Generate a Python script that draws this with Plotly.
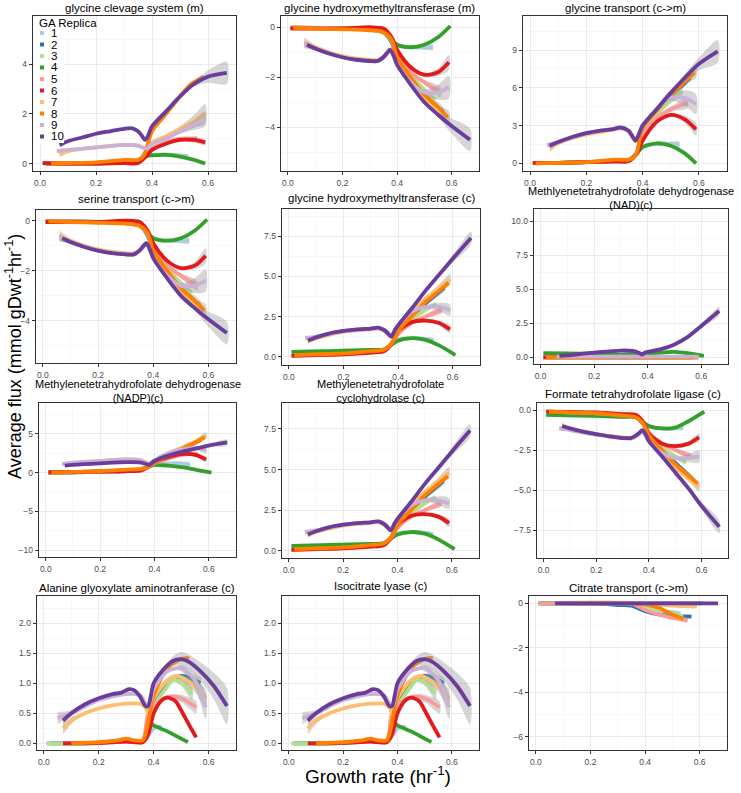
import plotly.graph_objects as go

# ---------------- series / colours ----------------
SERIES = ["1", "2", "3", "4", "5", "6", "7", "8", "9", "10"]
COLORS = ["#A6CEE3", "#1F78B4", "#B2DF8A", "#33A02C", "#FB9A99",
          "#E31A1C", "#FDBF6F", "#FF7F00", "#CAB2D6", "#6A3D9A"]

TITLES = [
    "glycine clevage system (m)",
    "glycine hydroxymethyltransferase (m)",
    "glycine transport (c->m)",
    "serine transport (c->m)",
    "glycine hydroxymethyltransferase (c)",
    "Methlyenetetrahydrofolate dehydrogenase<br>(NAD)(c)",
    "Methylenetetrahydrofolate dehydrogenase<br>(NADP)(c)",
    "Methylenetetrahydrofolate<br>cyclohydrolase (c)",
    "Formate tetrahydrofolate ligase (c)",
    "Alanine glyoxylate aminotranferase (c)",
    "Isocitrate lyase (c)",
    "Citrate transport (c->m)",
]

X_TICKS = [0.0, 0.2, 0.4, 0.6]

# each entry: series -> (growth rate, average flux, ribbon half-width)
glycine_cleavage = {
    "1": ([0.01, 0.1, 0.2, 0.3, 0.35, 0.38, 0.4, 0.45, 0.5, 0.53],
          [0.02, 0.0, 0.0, 0.05, 0.05, 0.3, 0.35, 0.37, 0.33, 0.3], None),
    "2": ([0.02, 0.1, 0.2, 0.3, 0.35, 0.38, 0.4, 0.45, 0.5, 0.57],
          [0.0, 0.0, 0.02, 0.1, 0.1, 0.5, 0.8, 1.05, 1.3, 1.65], None),
    "3": ([0.01, 0.1, 0.2, 0.3, 0.35, 0.38, 0.4, 0.45, 0.5, 0.54],
          [0.02, 0.0, 0.02, 0.08, 0.08, 0.5, 0.75, 1.05, 1.3, 1.5], None),
    "4": ([0.01, 0.1, 0.2, 0.3, 0.35, 0.38, 0.4, 0.45, 0.5, 0.55, 0.59],
          [0.02, 0.0, 0.0, 0.03, 0.03, 0.3, 0.33, 0.35, 0.28, 0.15, 0.0], None),
    "5": ([0.01, 0.1, 0.2, 0.3, 0.35, 0.38, 0.4, 0.45, 0.5, 0.55, 0.56],
          [0.02, 0.0, 0.0, 0.05, 0.05, 0.4, 0.6, 0.85, 1.0, 1.0, 1.0],
          [0, 0, 0, 0, 0, 0, 0, 0, 0.05, 0.1, 0.12]),
    "6": ([0.01, 0.1, 0.2, 0.3, 0.35, 0.38, 0.4, 0.45, 0.5, 0.55, 0.59],
          [0.02, 0.0, 0.0, 0.02, 0.02, 0.3, 0.55, 0.8, 0.95, 0.95, 0.85],
          [0, 0, 0, 0, 0, 0, 0, 0, 0.05, 0.1, 0.12]),
    "7": ([0.07, 0.1, 0.2, 0.3, 0.35, 0.38, 0.4, 0.45, 0.5, 0.55, 0.59],
          [0.35, 0.5, 0.65, 0.75, 0.72, 0.6, 0.85, 1.1, 1.4, 1.7, 2.0],
          [0.1, 0.05, 0, 0, 0, 0, 0, 0, 0.1, 0.25, 0.4]),
    "8": ([0.04, 0.1, 0.2, 0.3, 0.35, 0.37, 0.38, 0.4, 0.45, 0.5, 0.54, 0.585],
          [0.0, 0.02, 0.05, 0.15, 0.15, 0.3, 0.6, 1.3, 2.0, 2.7, 3.2, 3.5], None),
    "9": ([0.06, 0.1, 0.2, 0.3, 0.35, 0.38, 0.4, 0.45, 0.5, 0.55, 0.59],
          [0.5, 0.55, 0.65, 0.75, 0.72, 0.6, 0.8, 1.0, 1.3, 1.55, 1.8],
          [0.08, 0.05, 0, 0, 0, 0, 0, 0, 0.08, 0.2, 0.3]),
    "10": ([0.07, 0.1, 0.15, 0.2, 0.25, 0.3, 0.33, 0.35, 0.365, 0.375, 0.385, 0.4, 0.45, 0.5, 0.55, 0.6, 0.667],
           [0.75, 0.9, 1.05, 1.2, 1.3, 1.4, 1.42, 1.3, 1.1, 0.95, 1.1, 1.5, 2.1, 2.7, 3.2, 3.5, 3.65],
           [0.08, 0.05, 0, 0, 0, 0, 0, 0, 0, 0, 0, 0, 0, 0.05, 0.1, 0.25, 0.45]),
}

ghmt_m = {
    "1": ([0.01, 0.1, 0.2, 0.3, 0.35, 0.38, 0.4, 0.45, 0.5, 0.53],
          [-0.02, -0.03, -0.05, -0.05, -0.1, -0.5, -0.7, -0.8, -0.8, -0.8],
          [0, 0, 0, 0, 0, 0, 0, 0.05, 0.1, 0.12]),
    "2": ([0.02, 0.1, 0.2, 0.3, 0.35, 0.38, 0.4, 0.45, 0.5, 0.57],
          [-0.02, -0.03, -0.05, -0.1, -0.2, -0.6, -1.2, -2.0, -2.7, -3.4],
          [0, 0, 0, 0, 0, 0, 0, 0, 0.1, 0.2]),
    "3": ([0.01, 0.1, 0.2, 0.3, 0.35, 0.38, 0.4, 0.45, 0.5, 0.54],
          [-0.02, -0.03, -0.05, -0.1, -0.2, -0.55, -1.1, -1.9, -2.5, -2.9], None),
    "4": ([0.01, 0.1, 0.2, 0.3, 0.35, 0.38, 0.4, 0.45, 0.5, 0.55, 0.595],
          [-0.02, -0.03, -0.05, -0.05, -0.1, -0.5, -0.7, -0.8, -0.7, -0.4, 0.05], None),
    "5": ([0.01, 0.1, 0.2, 0.3, 0.35, 0.38, 0.4, 0.45, 0.5, 0.56],
          [-0.02, -0.03, -0.05, -0.05, -0.1, -0.5, -1.0, -1.8, -2.2, -2.6],
          [0, 0, 0, 0, 0, 0, 0, 0, 0.1, 0.2]),
    "6": ([0.01, 0.1, 0.2, 0.3, 0.35, 0.38, 0.4, 0.45, 0.5, 0.55, 0.59],
          [-0.05, -0.05, -0.05, 0.0, -0.05, -0.4, -0.9, -1.6, -1.9, -1.8, -1.4],
          [0, 0, 0, 0, 0, 0, 0, 0, 0.05, 0.15, 0.3]),
    "7": ([0.06, 0.1, 0.2, 0.3, 0.33, 0.36, 0.375, 0.4, 0.45, 0.5, 0.55, 0.59],
          [-0.6, -0.8, -1.15, -1.3, -1.3, -1.1, -0.9, -1.4, -2.1, -2.8, -3.3, -3.6],
          [0.2, 0.1, 0, 0, 0, 0, 0, 0, 0, 0.05, 0.15, 0.25]),
    "8": ([0.02, 0.1, 0.2, 0.3, 0.35, 0.38, 0.4, 0.45, 0.5, 0.55, 0.585],
          [-0.02, -0.05, -0.08, -0.12, -0.2, -0.5, -1.2, -2.0, -2.7, -3.2, -3.6], None),
    "9": ([0.06, 0.1, 0.2, 0.3, 0.33, 0.36, 0.375, 0.4, 0.45, 0.5, 0.55, 0.59],
          [-0.7, -0.85, -1.2, -1.35, -1.35, -1.1, -0.95, -1.5, -2.2, -2.6, -2.6, -2.4],
          [0.15, 0.08, 0, 0, 0, 0, 0, 0, 0, 0.1, 0.3, 0.45]),
    "10": ([0.07, 0.1, 0.15, 0.2, 0.25, 0.3, 0.33, 0.35, 0.365, 0.375, 0.39, 0.4, 0.45, 0.5, 0.55, 0.6, 0.667],
           [-0.7, -0.85, -1.05, -1.2, -1.3, -1.35, -1.35, -1.2, -1.0, -0.9, -1.2, -1.5, -2.3, -3.0, -3.5, -3.95, -4.5],
           [0.05, 0.03, 0, 0, 0, 0, 0, 0, 0, 0, 0, 0, 0, 0.05, 0.1, 0.3, 0.45]),
}

glycine_transport = {
    "1": ([0.01, 0.1, 0.2, 0.3, 0.35, 0.38, 0.4, 0.45, 0.5, 0.53],
          [0.02, 0.05, 0.1, 0.2, 0.2, 0.8, 1.3, 1.55, 1.55, 1.5],
          [0, 0, 0, 0, 0, 0, 0, 0.1, 0.2, 0.25]),
    "2": ([0.02, 0.1, 0.2, 0.3, 0.35, 0.38, 0.4, 0.45, 0.5, 0.57],
          [0.0, 0.05, 0.1, 0.25, 0.3, 0.9, 2.8, 4.1, 5.3, 6.8], None),
    "3": ([0.01, 0.1, 0.2, 0.3, 0.35, 0.38, 0.4, 0.45, 0.5, 0.54],
          [0.0, 0.05, 0.1, 0.25, 0.3, 0.9, 2.5, 3.9, 5.0, 5.8],
          [0, 0, 0, 0, 0, 0, 0, 0, 0.2, 0.4]),
    "4": ([0.01, 0.1, 0.2, 0.3, 0.35, 0.38, 0.4, 0.45, 0.5, 0.55, 0.59],
          [0.02, 0.05, 0.1, 0.2, 0.2, 0.8, 1.3, 1.6, 1.4, 0.8, 0.0], None),
    "5": ([0.01, 0.1, 0.2, 0.3, 0.35, 0.38, 0.4, 0.45, 0.5, 0.56],
          [0.02, 0.05, 0.1, 0.2, 0.2, 0.8, 2.2, 3.6, 4.3, 4.8],
          [0, 0, 0, 0, 0, 0, 0, 0, 0.2, 0.4]),
    "6": ([0.01, 0.1, 0.2, 0.3, 0.35, 0.38, 0.4, 0.45, 0.5, 0.55, 0.59],
          [0.05, 0.05, 0.1, 0.15, 0.2, 0.8, 1.8, 3.3, 3.85, 3.5, 2.7],
          [0, 0, 0, 0, 0, 0, 0, 0, 0.1, 0.3, 0.5]),
    "7": ([0.07, 0.1, 0.2, 0.3, 0.32, 0.35, 0.375, 0.39, 0.4, 0.45, 0.5, 0.55, 0.59],
          [1.2, 1.6, 2.3, 2.7, 2.8, 2.55, 1.8, 2.4, 2.9, 4.3, 5.6, 6.6, 7.3],
          [0.3, 0.15, 0, 0, 0, 0, 0, 0, 0, 0, 0.1, 0.3, 0.5]),
    "8": ([0.02, 0.1, 0.2, 0.3, 0.35, 0.37, 0.38, 0.4, 0.45, 0.5, 0.55, 0.585],
          [0.0, 0.05, 0.1, 0.3, 0.3, 0.5, 0.9, 2.8, 4.2, 5.4, 6.5, 7.2], None),
    "9": ([0.06, 0.1, 0.2, 0.3, 0.32, 0.35, 0.375, 0.39, 0.4, 0.45, 0.5, 0.55, 0.59],
          [1.45, 1.7, 2.4, 2.75, 2.8, 2.6, 1.9, 2.5, 3.0, 4.3, 5.2, 5.2, 4.7],
          [0.2, 0.1, 0, 0, 0, 0, 0, 0, 0, 0, 0.2, 0.6, 0.8]),
    "10": ([0.07, 0.1, 0.15, 0.2, 0.25, 0.3, 0.32, 0.35, 0.365, 0.375, 0.39, 0.4, 0.45, 0.5, 0.55, 0.6, 0.667],
           [1.4, 1.7, 2.1, 2.4, 2.6, 2.75, 2.85, 2.6, 2.1, 1.8, 2.5, 3.0, 4.3, 5.6, 6.8, 7.9, 8.9],
           [0.2, 0.1, 0, 0, 0, 0, 0, 0, 0, 0, 0, 0, 0, 0.1, 0.3, 0.5, 0.9]),
}

ghmt_c = {
    "1": ([0.01, 0.1, 0.2, 0.3, 0.35, 0.38, 0.4, 0.45, 0.5, 0.53],
          [0.3, 0.33, 0.37, 0.42, 0.45, 0.8, 1.05, 1.15, 1.1, 1.0],
          [0, 0, 0, 0, 0, 0, 0, 0.05, 0.1, 0.15]),
    "2": ([0.02, 0.1, 0.2, 0.3, 0.35, 0.38, 0.4, 0.45, 0.5, 0.57],
          [0.1, 0.15, 0.2, 0.35, 0.45, 0.9, 1.6, 2.5, 3.3, 4.3],
          [0, 0, 0, 0, 0, 0, 0, 0, 0.1, 0.2]),
    "3": ([0.01, 0.1, 0.2, 0.3, 0.35, 0.38, 0.4, 0.45, 0.5, 0.54],
          [0.1, 0.15, 0.2, 0.35, 0.45, 0.9, 1.5, 2.3, 2.9, 3.3], None),
    "4": ([0.01, 0.1, 0.2, 0.3, 0.35, 0.38, 0.4, 0.45, 0.5, 0.55, 0.61],
          [0.3, 0.33, 0.37, 0.42, 0.45, 0.8, 1.0, 1.15, 1.05, 0.7, 0.1], None),
    "5": ([0.01, 0.1, 0.2, 0.3, 0.35, 0.38, 0.4, 0.45, 0.5, 0.56],
          [0.05, 0.1, 0.15, 0.25, 0.35, 0.9, 1.4, 2.1, 2.5, 2.9],
          [0, 0, 0, 0, 0, 0, 0, 0, 0.1, 0.2]),
    "6": ([0.01, 0.1, 0.2, 0.3, 0.35, 0.38, 0.4, 0.45, 0.5, 0.55, 0.59],
          [0.05, 0.1, 0.15, 0.25, 0.35, 0.9, 1.6, 2.15, 2.25, 2.1, 1.7],
          [0, 0, 0, 0, 0, 0, 0, 0, 0.05, 0.15, 0.25]),
    "7": ([0.07, 0.1, 0.2, 0.3, 0.33, 0.36, 0.375, 0.39, 0.4, 0.45, 0.5, 0.55, 0.59],
          [0.95, 1.15, 1.55, 1.7, 1.75, 1.5, 1.25, 1.65, 1.9, 2.8, 3.6, 4.3, 4.8],
          [0.15, 0.08, 0, 0, 0, 0, 0, 0, 0, 0, 0.05, 0.2, 0.35]),
    "8": ([0.02, 0.1, 0.2, 0.3, 0.35, 0.38, 0.4, 0.45, 0.5, 0.55, 0.585],
          [0.1, 0.15, 0.2, 0.35, 0.45, 0.9, 1.6, 2.5, 3.4, 4.1, 4.6], None),
    "9": ([0.06, 0.1, 0.2, 0.3, 0.33, 0.36, 0.375, 0.39, 0.4, 0.45, 0.5, 0.55, 0.59],
          [1.15, 1.25, 1.6, 1.75, 1.8, 1.55, 1.3, 1.7, 1.95, 2.8, 3.1, 3.1, 2.9],
          [0.15, 0.08, 0, 0, 0, 0, 0, 0, 0, 0, 0.1, 0.25, 0.35]),
    "10": ([0.07, 0.1, 0.15, 0.2, 0.25, 0.3, 0.33, 0.35, 0.365, 0.375, 0.39, 0.4, 0.45, 0.5, 0.55, 0.6, 0.667],
           [1.0, 1.2, 1.45, 1.6, 1.7, 1.75, 1.8, 1.65, 1.4, 1.25, 1.7, 1.95, 3.0, 4.1, 5.1, 6.1, 7.4],
           [0.1, 0.05, 0, 0, 0, 0, 0, 0, 0, 0, 0, 0, 0, 0.05, 0.1, 0.25, 0.4]),
}

mthfd_nad = {
    "1": ([0.01, 0.3, 0.53], [0.0, 0.0, 0.0], None),
    "2": ([0.02, 0.3, 0.57], [0.0, 0.0, 0.0], None),
    "3": ([0.01, 0.3, 0.54], [0.0, 0.0, 0.0], None),
    "4": ([0.01, 0.1, 0.2, 0.3, 0.38, 0.45, 0.5, 0.55, 0.61],
          [0.3, 0.28, 0.25, 0.2, 0.25, 0.35, 0.4, 0.3, 0.1], None),
    "5": ([0.01, 0.3, 0.56], [0.0, 0.0, 0.0], None),
    "6": ([0.01, 0.3, 0.59], [0.0, 0.0, 0.0], None),
    "7": ([0.07, 0.3, 0.59], [0.0, 0.0, 0.0], None),
    "8": ([0.02, 0.3, 0.585], [0.0, 0.0, 0.0], None),
    "9": ([0.06, 0.15, 0.25, 0.32, 0.37, 0.4, 0.5, 0.59],
          [0.05, 0.05, 0.05, 0.05, 0.05, 0.05, 0.05, 0.05],
          [0, 0.05, 0.15, 0.2, 0.1, 0, 0, 0]),
    "10": ([0.07, 0.1, 0.2, 0.3, 0.35, 0.37, 0.38, 0.39, 0.4, 0.45, 0.5, 0.55, 0.6, 0.667],
           [0.1, 0.15, 0.35, 0.5, 0.45, 0.3, 0.2, 0.35, 0.4, 0.6, 0.95, 1.5, 2.3, 3.4],
           [0, 0, 0, 0, 0, 0, 0, 0, 0, 0, 0, 0.05, 0.15, 0.3]),
}

mthfd_nadp = {
    "1": ([0.01, 0.1, 0.2, 0.3, 0.35, 0.38, 0.4, 0.45, 0.5, 0.53],
          [0.0, 0.05, 0.1, 0.2, 0.3, 0.8, 1.1, 1.2, 1.2, 1.0],
          [0, 0, 0, 0, 0, 0, 0, 0.1, 0.2, 0.3]),
    "2": ([0.02, 0.1, 0.2, 0.3, 0.35, 0.38, 0.4, 0.45, 0.5, 0.57],
          [0.0, 0.05, 0.15, 0.3, 0.45, 0.8, 1.4, 2.2, 3.0, 4.2], None),
    "3": ([0.01, 0.1, 0.2, 0.3, 0.35, 0.38, 0.4, 0.45, 0.5, 0.54],
          [0.0, 0.05, 0.15, 0.3, 0.45, 0.8, 1.3, 2.0, 2.6, 3.0], None),
    "4": ([0.01, 0.1, 0.2, 0.3, 0.35, 0.38, 0.4, 0.45, 0.5, 0.55, 0.61],
          [0.0, 0.05, 0.1, 0.2, 0.3, 0.8, 1.0, 0.9, 0.7, 0.4, 0.0], None),
    "5": ([0.01, 0.1, 0.2, 0.3, 0.35, 0.38, 0.4, 0.45, 0.5, 0.56],
          [0.0, 0.05, 0.1, 0.2, 0.3, 0.8, 1.2, 1.8, 2.3, 2.5], None),
    "6": ([0.01, 0.1, 0.2, 0.3, 0.35, 0.38, 0.4, 0.45, 0.5, 0.55, 0.59],
          [0.05, 0.08, 0.15, 0.2, 0.3, 0.8, 1.3, 2.0, 2.4, 2.3, 1.7],
          [0, 0, 0, 0, 0, 0, 0, 0, 0.1, 0.2, 0.3]),
    "7": ([0.07, 0.1, 0.2, 0.3, 0.35, 0.38, 0.4, 0.45, 0.5, 0.55, 0.59],
          [1.0, 1.2, 1.5, 1.7, 1.6, 1.2, 1.5, 2.5, 3.2, 4.0, 4.8],
          [0.3, 0.15, 0, 0, 0, 0, 0, 0, 0.1, 0.25, 0.4]),
    "8": ([0.02, 0.1, 0.2, 0.3, 0.35, 0.38, 0.4, 0.45, 0.5, 0.55, 0.585],
          [0.0, 0.1, 0.2, 0.4, 0.5, 0.8, 1.3, 2.2, 3.1, 3.9, 4.6], None),
    "9": ([0.06, 0.1, 0.2, 0.3, 0.35, 0.38, 0.4, 0.45, 0.5, 0.55, 0.59],
          [1.1, 1.3, 1.5, 1.7, 1.6, 1.1, 1.6, 2.5, 3.0, 3.2, 2.9],
          [0.3, 0.15, 0, 0, 0, 0, 0, 0, 0.1, 0.25, 0.4]),
    "10": ([0.07, 0.1, 0.2, 0.3, 0.35, 0.37, 0.38, 0.4, 0.45, 0.5, 0.55, 0.6, 0.667],
           [0.9, 1.0, 1.2, 1.35, 1.3, 1.1, 1.0, 1.5, 2.2, 2.7, 3.1, 3.5, 3.9],
           [0.2, 0.1, 0, 0, 0, 0, 0, 0, 0, 0, 0.1, 0.2, 0.4]),
}

formate_ligase = {
    "1": ([0.01, 0.1, 0.2, 0.3, 0.35, 0.38, 0.4, 0.45, 0.5, 0.53],
          [-0.3, -0.33, -0.37, -0.42, -0.45, -0.8, -1.05, -1.15, -1.15, -1.1],
          [0, 0, 0, 0, 0, 0, 0, 0.05, 0.1, 0.15]),
    "2": ([0.02, 0.1, 0.2, 0.3, 0.35, 0.38, 0.4, 0.45, 0.5, 0.57],
          [-0.1, -0.15, -0.2, -0.35, -0.45, -0.9, -1.7, -2.6, -3.3, -4.4],
          [0, 0, 0, 0, 0, 0, 0, 0, 0.1, 0.2]),
    "3": ([0.01, 0.1, 0.2, 0.3, 0.35, 0.38, 0.4, 0.45, 0.5, 0.54],
          [-0.1, -0.15, -0.2, -0.35, -0.45, -0.9, -1.5, -2.3, -2.9, -3.3], None),
    "4": ([0.01, 0.1, 0.2, 0.3, 0.35, 0.38, 0.4, 0.45, 0.5, 0.55, 0.61],
          [-0.3, -0.33, -0.37, -0.42, -0.45, -0.8, -1.0, -1.15, -1.1, -0.7, -0.1], None),
    "5": ([0.01, 0.1, 0.2, 0.3, 0.35, 0.38, 0.4, 0.45, 0.5, 0.56],
          [-0.1, -0.15, -0.2, -0.3, -0.4, -0.9, -1.4, -2.1, -2.5, -2.9],
          [0, 0, 0, 0, 0, 0, 0, 0, 0.1, 0.2]),
    "6": ([0.01, 0.1, 0.2, 0.3, 0.35, 0.38, 0.4, 0.45, 0.5, 0.55, 0.59],
          [-0.1, -0.12, -0.15, -0.25, -0.3, -0.8, -1.5, -2.1, -2.25, -2.1, -1.7],
          [0, 0, 0, 0, 0, 0, 0, 0, 0.05, 0.15, 0.25]),
    "7": ([0.07, 0.1, 0.2, 0.3, 0.33, 0.36, 0.375, 0.39, 0.4, 0.45, 0.5, 0.55, 0.59],
          [-0.95, -1.15, -1.5, -1.7, -1.75, -1.5, -1.25, -1.6, -1.9, -2.8, -3.6, -4.3, -4.8],
          [0.15, 0.08, 0, 0, 0, 0, 0, 0, 0, 0, 0.05, 0.15, 0.3]),
    "8": ([0.02, 0.1, 0.2, 0.3, 0.35, 0.38, 0.4, 0.45, 0.5, 0.55, 0.585],
          [-0.1, -0.15, -0.2, -0.35, -0.45, -0.9, -1.6, -2.5, -3.4, -4.1, -4.6], None),
    "9": ([0.06, 0.1, 0.2, 0.3, 0.33, 0.36, 0.375, 0.39, 0.4, 0.45, 0.5, 0.55, 0.59],
          [-1.15, -1.25, -1.55, -1.75, -1.8, -1.55, -1.3, -1.7, -1.95, -2.7, -3.0, -3.0, -2.9],
          [0.15, 0.08, 0, 0, 0, 0, 0, 0, 0, 0, 0.1, 0.25, 0.4]),
    "10": ([0.07, 0.1, 0.15, 0.2, 0.25, 0.3, 0.33, 0.35, 0.365, 0.375, 0.39, 0.4, 0.45, 0.5, 0.55, 0.6, 0.667],
           [-1.0, -1.15, -1.35, -1.5, -1.65, -1.75, -1.75, -1.6, -1.4, -1.25, -1.6, -1.95, -2.9, -3.9, -4.9, -6.0, -7.3],
           [0.1, 0.05, 0, 0, 0, 0, 0, 0, 0, 0, 0, 0, 0, 0.05, 0.1, 0.25, 0.4]),
}

alanine_glyoxylate = {
    "1": ([0.01, 0.1, 0.2, 0.3, 0.36, 0.38, 0.4, 0.43],
          [0.0, 0.0, 0.0, 0.03, 0.02, 0.12, 0.25, 0.28], None),
    "2": ([0.02, 0.1, 0.2, 0.3, 0.36, 0.38, 0.4, 0.45, 0.5, 0.55, 0.57],
          [0.0, 0.0, 0.01, 0.05, 0.03, 0.3, 0.7, 1.0, 1.12, 1.05, 1.0],
          [0, 0, 0, 0, 0, 0, 0, 0, 0.04, 0.08, 0.1]),
    "3": ([0.01, 0.07, 0.1, 0.2, 0.3, 0.36, 0.38, 0.4, 0.45, 0.47, 0.5, 0.54],
          [0.0, 0.0, 0.0, 0.01, 0.04, 0.03, 0.3, 0.6, 0.95, 1.05, 1.02, 0.82],
          [0, 0, 0, 0, 0, 0, 0, 0, 0, 0.03, 0.06, 0.1]),
    "4": ([0.1, 0.2, 0.3, 0.36, 0.375, 0.385, 0.4, 0.45, 0.5, 0.525],
          [0.0, 0.01, 0.05, 0.03, 0.2, 0.35, 0.3, 0.2, 0.08, 0.02], None),
    "5": ([0.1, 0.2, 0.3, 0.36, 0.38, 0.42, 0.46, 0.5, 0.555],
          [0.0, 0.01, 0.05, 0.05, 0.5, 0.7, 0.78, 0.75, 0.6],
          [0, 0, 0, 0, 0, 0, 0.03, 0.06, 0.1]),
    "6": ([0.07, 0.1, 0.2, 0.3, 0.36, 0.38, 0.4, 0.43, 0.45, 0.48, 0.5, 0.53, 0.555],
          [0.0, 0.0, 0.01, 0.03, 0.02, 0.15, 0.5, 0.72, 0.76, 0.7, 0.55, 0.3, 0.1], None),
    "7": ([0.07, 0.1, 0.15, 0.2, 0.25, 0.3, 0.35, 0.37, 0.38, 0.4, 0.45, 0.48, 0.5, 0.55, 0.59],
          [0.25, 0.38, 0.5, 0.58, 0.63, 0.66, 0.66, 0.6, 0.5, 0.75, 1.05, 1.12, 1.1, 0.95, 0.75],
          [0.1, 0.06, 0, 0, 0, 0, 0, 0, 0, 0, 0, 0.03, 0.05, 0.1, 0.15]),
    "8": ([0.1, 0.2, 0.28, 0.3, 0.33, 0.36, 0.37, 0.38, 0.4, 0.45, 0.5, 0.53],
          [0.0, 0.02, 0.06, 0.08, 0.05, 0.05, 0.15, 0.35, 0.8, 1.25, 1.4, 1.42], None),
    "9": ([0.05, 0.1, 0.2, 0.3, 0.35, 0.38, 0.4, 0.45, 0.5, 0.55, 0.59],
          [0.42, 0.5, 0.72, 0.82, 0.8, 0.6, 0.9, 1.2, 1.25, 1.05, 0.6],
          [0.1, 0.05, 0, 0, 0, 0, 0, 0, 0.05, 0.12, 0.2]),
    "10": ([0.07, 0.1, 0.15, 0.2, 0.25, 0.28, 0.31, 0.33, 0.35, 0.37, 0.38, 0.39, 0.4, 0.43, 0.47, 0.5, 0.53, 0.57, 0.62, 0.667],
           [0.38, 0.5, 0.65, 0.75, 0.82, 0.84, 0.9, 0.88, 0.78, 0.62, 0.62, 0.8, 1.0, 1.2, 1.37, 1.4, 1.35, 1.2, 0.95, 0.62],
           [0.06, 0.04, 0, 0, 0, 0, 0, 0, 0, 0, 0, 0, 0, 0, 0.08, 0.12, 0.12, 0.15, 0.22, 0.3]),
}

citrate_transport = {
    "1": ([0.01, 0.3, 0.35, 0.4, 0.45, 0.5, 0.53], [0.0, 0.0, 0.0, -0.15, -0.3, -0.4, -0.45], None),
    "2": ([0.02, 0.25, 0.3, 0.35, 0.4, 0.45, 0.5, 0.57], [0.0, -0.02, -0.08, -0.1, -0.35, -0.5, -0.55, -0.6], None),
    "3": ([0.01, 0.35, 0.4, 0.45, 0.5, 0.54], [0.0, 0.0, -0.15, -0.3, -0.45, -0.6], None),
    "4": ([0.01, 0.3, 0.61], [0.0, 0.0, 0.0], None),
    "5": ([0.01, 0.07, 0.3, 0.35, 0.4, 0.45, 0.5, 0.555], [0.0, 0.0, 0.0, 0.0, -0.3, -0.5, -0.65, -0.75],
          [0, 0, 0, 0, 0, 0, 0.05, 0.1]),
    "6": ([0.08, 0.3, 0.4, 0.5, 0.555], [0.0, 0.0, -0.02, -0.05, -0.05], None),
    "7": ([0.08, 0.4, 0.45, 0.5, 0.59], [0.0, 0.0, -0.05, -0.1, -0.15], None),
    "8": ([0.1, 0.35, 0.4, 0.45, 0.5, 0.54], [0.0, 0.0, -0.05, -0.2, -0.5, -0.7], None),
    "9": ([0.07, 0.3, 0.59], [0.0, 0.0, 0.0], None),
    "10": ([0.07, 0.3, 0.667], [0.0, 0.0, 0.0], None),
}

PANEL_DATA = [glycine_cleavage, ghmt_m, glycine_transport, ghmt_m, ghmt_c, mthfd_nad,
              mthfd_nadp, ghmt_c, formate_ligase, alanine_glyoxylate, alanine_glyoxylate,
              citrate_transport]

Y_RANGES = [(-0.3, 5.94), (-5.75, 0.45), (-0.6, 11.7), (-5.7, 0.43), (-0.52, 9.2),
            (-0.49, 10.9), (-10.9, 9.0), (-0.45, 9.1), (-9.25, 0.44), (-0.11, 2.45),
            (-0.11, 2.45), (-6.6, 0.33)]
Y_DTICK = [2, 2, 3, 2, 2.5, 2.5, 5, 2.5, 2.5, 0.5, 0.5, 2]
Y_FMT = ["d", "d", "d", "d", ".1f", ".1f", "d", ".1f", ".1f", ".1f", ".1f", "d"]

# ---------------- layout (pixels) ----------------
W, H = 741, 793
BOXES = [(33, 236, 16, 171), (281, 479, 16, 171), (523, 727, 16, 171),
         (36, 236, 210, 363), (282, 480, 209, 365), (534, 728, 209, 364),
         (39, 236, 403, 557), (282, 479, 403, 558), (537, 728, 403, 558),
         (37, 236, 596, 750), (282, 479, 596, 750), (529, 727, 596, 750)]
TITLE_Y = [8, 8, 8, 199, 198, 198, 391, 391, 394, 588, 586, 588]
TITLE_SIZE = [11.5, 11.5, 11.5, 11.5, 11.5, 11, 11, 11, 11.5, 11.5, 11.5, 11.5]

FONT = "Liberation Sans, Arial, Helvetica, sans-serif"
px = lambda v: v / W
py = lambda v: 1 - v / H

fig = go.Figure()
layout = dict(width=W, height=H, margin=dict(l=0, r=0, t=0, b=0, pad=0),
              paper_bgcolor="white", plot_bgcolor="white", showlegend=False,
              font=dict(family=FONT))
annotations = []
shapes = []

for i, (data, box) in enumerate(zip(PANEL_DATA, BOXES)):
    n = i + 1
    xa = "x" if n == 1 else f"x{n}"
    ya = "y" if n == 1 else f"y{n}"
    for s, col in zip(SERIES, COLORS):
        xs, ys, se = data[s]
        if se is not None:
            up = [y + e for y, e in zip(ys, se)]
            lo = [y - e for y, e in zip(ys, se)]
            fig.add_trace(go.Scatter(
                x=xs + xs[::-1], y=up + lo[::-1], xaxis=xa, yaxis=ya,
                mode="lines", fill="toself", fillcolor="rgba(153,153,153,0.4)",
                line=dict(width=0, shape="spline", smoothing=0.8),
                hoverinfo="skip"))
        fig.add_trace(go.Scatter(
            x=xs, y=ys, xaxis=xa, yaxis=ya, mode="lines", name=s,
            line=dict(color=col, width=3.8, shape="spline", smoothing=0.8)))

    x0, x1, y0, y1 = box
    axcommon = dict(showline=True, linecolor="#333333", linewidth=1.4, mirror=True,
                    ticks="outside", ticklen=3, tickcolor="#333333", tickwidth=1,
                    tickfont=dict(size=8.5, color="#4d4d4d", family=FONT),
                    showgrid=True, gridcolor="#EBEBEB", gridwidth=1, zeroline=False)
    layout["xaxis" if n == 1 else f"xaxis{n}"] = dict(
        axcommon, domain=[px(x0), px(x1)], range=[-0.025, 0.70],
        tickvals=X_TICKS, tickformat=".1f", anchor=ya,
        minor=dict(dtick=0.1, tick0=0, showgrid=True, gridcolor="#F3F3F3", gridwidth=0.6))
    yr = Y_RANGES[i]
    d = Y_DTICK[i]
    layout["yaxis" if n == 1 else f"yaxis{n}"] = dict(
        axcommon, domain=[py(y1), py(y0)], range=list(yr), dtick=d, tick0=0,
        tickformat=Y_FMT[i], anchor=xa,
        minor=dict(dtick=d / 2, tick0=0, showgrid=True, gridcolor="#F3F3F3", gridwidth=0.6))
    annotations.append(dict(
        text=TITLES[i], x=px((x0 + x1) / 2), y=py(TITLE_Y[i]), xref="paper", yref="paper",
        showarrow=False, xanchor="center", yanchor="middle",
        font=dict(size=TITLE_SIZE[i], color="black", family=FONT)))

# axis titles
annotations.append(dict(text="Average flux (mmol gDwt<sup>-1</sup>hr<sup>-1</sup>)",
                        x=px(13), y=py(357), xref="paper", yref="paper", textangle=-90,
                        xanchor="center", yanchor="middle",
                        showarrow=False, font=dict(size=18, color="black", family=FONT)))
annotations.append(dict(text="Growth rate (hr<sup>-1</sup>)", x=px(378), y=py(775),
                        xref="paper", yref="paper", showarrow=False,
                        xanchor="center", yanchor="middle",
                        font=dict(size=19, color="black", family=FONT)))

# legend (inside first panel)
LEG_X, LEG_Y0, LEG_DY = 42, 33, 11.5
shapes.append(dict(type="rect", xref="paper", yref="paper", x0=px(35), x1=px(64),
                   y0=py(143), y1=py(27), fillcolor="white", line=dict(width=0), layer="above"))
annotations.append(dict(text="GA Replica", x=px(37), y=py(23), xref="paper", yref="paper",
                        showarrow=False, xanchor="left", yanchor="middle",
                        font=dict(size=11.5, color="black", family=FONT)))
for k, (s, col) in enumerate(zip(SERIES, COLORS)):
    yc = LEG_Y0 + k * LEG_DY
    shapes.append(dict(type="rect", xref="paper", yref="paper",
                       x0=px(LEG_X - 2), x1=px(LEG_X + 2), y0=py(yc + 2), y1=py(yc - 2),
                       fillcolor=col, line=dict(width=0), layer="above"))
    annotations.append(dict(text=s, x=px(49), y=py(yc), xref="paper", yref="paper",
                            showarrow=False, xanchor="left", yanchor="middle",
                            font=dict(size=11.5, color="black", family=FONT)))

layout["annotations"] = annotations
layout["shapes"] = shapes
fig.update_layout(**layout)
fig.write_html("out.html", config={"displayModeBar": False, "staticPlot": True},
               post_script="document.body.style.margin='0';document.body.style.overflow='hidden';")
